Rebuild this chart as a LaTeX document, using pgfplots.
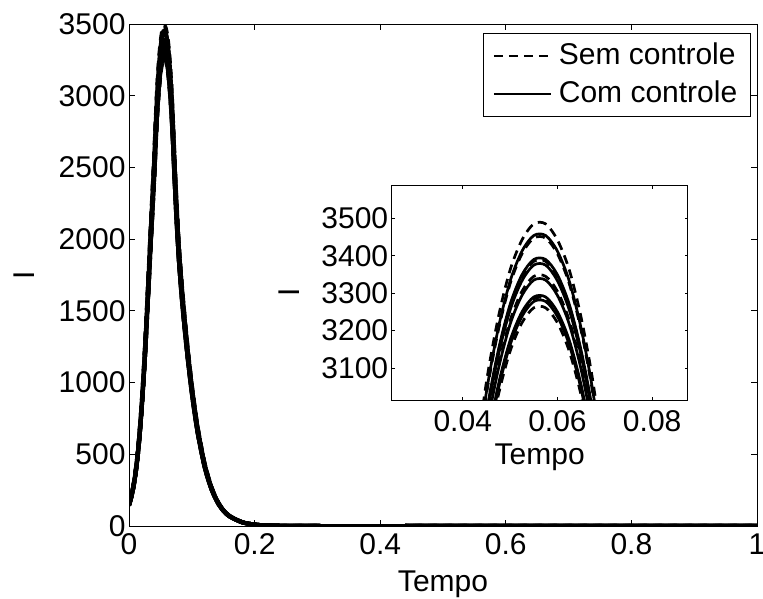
\documentclass[border=0pt]{standalone}
\usepackage{fontspec}
\setmainfont{Liberation Sans}
\usepackage{pgfplots}
\usepackage{pgfplotstable}
\pgfplotsset{compat=1.18}

% Infected population I over time: six runs without control (d*), six with control (s*)
\pgfplotstableread{
t      d1   d2   d3   d4   d5   d6   s1   s2   s3   s4   s5   s6
0      152  150  147  146  143  142  150  148  147  145  143  143
0.005  238  235  231  228  224  222  235  231  230  227  224  223
0.01   369  365  358  354  348  345  366  359  357  353  348  347
0.015  566  560  550  543  534  530  561  551  548  542  535  533
0.02   849  840  825  815  801  795  842  826  822  813  802  799
0.025  1213 1200 1178 1165 1144 1135 1202 1180 1175 1161 1145 1141
0.03   1658 1640 1610 1592 1563 1551 1643 1613 1606 1587 1565 1560
0.035  2123 2100 2062 2038 2001 1987 2104 2065 2056 2032 2004 1997
0.04   2568 2540 2494 2465 2421 2403 2545 2498 2487 2457 2424 2416
0.0425 2831 2800 2750 2717 2668 2649 2806 2754 2741 2709 2673 2663
0.045  3063 3030 2975 2941 2888 2866 3036 2980 2966 2932 2892 2882
0.0475 3235 3200 3142 3106 3050 3027 3206 3147 3133 3096 3054 3043
0.05   3362 3325 3265 3227 3169 3145 3332 3270 3255 3217 3174 3162
0.0525 3442 3405 3344 3305 3245 3221 3412 3349 3333 3294 3250 3238
0.055  3485 3447 3385 3345 3285 3261 3454 3390 3375 3335 3290 3278
0.0575 3485 3447 3385 3345 3285 3261 3454 3390 3375 3335 3290 3278
0.06   3442 3405 3344 3305 3245 3221 3412 3349 3333 3294 3250 3238
0.0625 3362 3325 3265 3227 3169 3145 3332 3270 3255 3217 3174 3162
0.065  3235 3200 3142 3106 3050 3027 3206 3147 3133 3096 3054 3043
0.0675 3063 3030 2975 2941 2888 2866 3036 2980 2966 2932 2892 2882
0.07   2831 2800 2750 2717 2668 2649 2806 2754 2741 2709 2673 2663
0.0725 2568 2540 2494 2465 2421 2403 2545 2498 2487 2457 2424 2416
0.075  2325 2300 2259 2232 2192 2176 2305 2262 2252 2225 2195 2187
0.0775 2113 2090 2052 2028 1992 1977 2094 2056 2046 2022 1995 1988
0.08   1926 1905 1871 1849 1815 1802 1909 1874 1865 1843 1818 1812
0.085  1638 1620 1591 1572 1544 1533 1623 1593 1586 1567 1546 1541
0.09   1395 1380 1355 1339 1315 1305 1383 1357 1351 1335 1317 1312
0.095  1178 1165 1144 1131 1110 1102 1167 1146 1141 1127 1112 1108
0.1    986  975  957  946  929  922  977  959  955  943  931  927
0.105  819  810  795  786  772  766  812  797  793  784  773  770
0.11   672  665  653  645  634  629  666  654  651  643  635  632
0.12   445  440  432  427  419  416  441  433  431  426  420  418
0.13   288  285  280  277  272  270  286  280  279  276  272  271
0.14   182  180  177  175  172  170  180  177  176  174  172  171
0.15   113  112  110  109  107  106  112  110  110  108  107  107
0.16   71   70   69   68   67   66   70   69   69   68   67   67
0.18   27   27   27   26   26   26   27   27   26   26   26   26
0.2    10   10   10   10   10   9    10   10   10   10   10   10
0.22   4    4    4    4    4    4    4    4    4    4    4    4
0.25   1    1    1    1    1    1    1    1    1    1    1    1
0.3    0    0    0    0    0    0    0    0    0    0    0    0
0.5    0    0    0    0    0    0    0    0    0    0    0    0
1      0    0    0    0    0    0    0    0    0    0    0    0
}\epidata

\newcommand\figfont{\fontsize{30}{36}\selectfont}

\pgfplotsset{
  boxaxis/.style={
    scale only axis,
    axis background/.style={fill=white},
    axis line style={line width=0.9pt},
    every tick/.style={line width=0.9pt, black},
    tick align=inside,
    tick pos=both,
    scaled ticks=false,
    /pgf/number format/assume math mode=true,
    /pgf/number format/1000 sep={},
    tick label style={font=\figfont},
    label style={font=\figfont},
    xticklabel style={/pgf/number format/fixed, /pgf/number format/precision=2},
  },
  semctl/.style={black, smooth, line join=round, dash pattern=on 9pt off 6pt},
  comctl/.style={black, smooth, line join=round, solid},
}

\begin{document}
\begin{tikzpicture}[x=1pt,y=1pt]
\useasboundingbox (0,0) rectangle (763,599);

% full time window
\begin{axis}[boxaxis,
  at={(129pt,73pt)}, anchor=south west,
  width=628pt, height=502pt,
  xmin=0, xmax=1, ymin=0, ymax=3500,
  xtick={0,0.2,0.4,0.6,0.8,1},
  ytick={0,500,1000,1500,2000,2500,3000,3500},
  major tick length=6pt,
  xticklabel style={yshift=-4pt},
  xlabel={Tempo}, ylabel={I},
  xlabel style={at={([yshift=-66pt]rel axis cs:0.5,0)}, anchor=base},
  ylabel style={at={([xshift=-105pt]rel axis cs:0,0.5)}, anchor=center},
  every axis plot/.append style={line width=4pt},
  legend cell align=left,
  legend style={at={(0.990,0.982)}, anchor=north east,
    draw=black, line width=0.9pt, fill=white, font=\figfont,
    inner xsep=10pt, inner ysep=3.5pt, row sep=0pt, column sep=4pt,
    nodes={inner sep=3pt, text height=25pt, text depth=7pt}},
  legend image code/.code={\draw[#1, line width=1.8pt] (0pt,0pt) -- (57pt,0pt);},
]
\addplot[semctl] table[x=t, y=d1] {\epidata};
\addlegendentry{Sem controle}
\addplot[semctl, forget plot] table[x=t, y=d2] {\epidata};
\addplot[semctl, forget plot] table[x=t, y=d3] {\epidata};
\addplot[semctl, forget plot] table[x=t, y=d4] {\epidata};
\addplot[semctl, forget plot] table[x=t, y=d5] {\epidata};
\addplot[semctl, forget plot] table[x=t, y=d6] {\epidata};
\addplot[comctl] table[x=t, y=s1] {\epidata};
\addlegendentry{Com controle}
\addplot[comctl, forget plot] table[x=t, y=s2] {\epidata};
\addplot[comctl, forget plot] table[x=t, y=s3] {\epidata};
\addplot[comctl, forget plot] table[x=t, y=s4] {\epidata};
\addplot[comctl, forget plot] table[x=t, y=s5] {\epidata};
\addplot[comctl, forget plot] table[x=t, y=s6] {\epidata};
\end{axis}

% zoom on the peak
\begin{axis}[boxaxis,
  at={(391.7pt,199pt)}, anchor=south west,
  width=296pt, height=214.3pt,
  xmin=0.025, xmax=0.0875, ymin=3015, ymax=3587,
  xtick={0.04,0.06,0.08},
  ytick={3100,3200,3300,3400,3500},
  major tick length=3pt,
  xticklabel style={yshift=-7pt},
  xlabel={Tempo}, ylabel={I},
  xlabel style={at={([yshift=-65pt]rel axis cs:0.5,0)}, anchor=base},
  ylabel style={at={([xshift=-103pt]rel axis cs:0,0.5)}, anchor=center},
  every axis plot/.append style={line width=2.7pt},
]
\addplot[semctl] table[x=t, y=d1] {\epidata};
\addplot[semctl] table[x=t, y=d2] {\epidata};
\addplot[semctl] table[x=t, y=d3] {\epidata};
\addplot[semctl] table[x=t, y=d4] {\epidata};
\addplot[semctl] table[x=t, y=d5] {\epidata};
\addplot[semctl] table[x=t, y=d6] {\epidata};
\addplot[comctl] table[x=t, y=s1] {\epidata};
\addplot[comctl] table[x=t, y=s2] {\epidata};
\addplot[comctl] table[x=t, y=s3] {\epidata};
\addplot[comctl] table[x=t, y=s4] {\epidata};
\addplot[comctl] table[x=t, y=s5] {\epidata};
\addplot[comctl] table[x=t, y=s6] {\epidata};
\end{axis}
\end{tikzpicture}
\end{document}
